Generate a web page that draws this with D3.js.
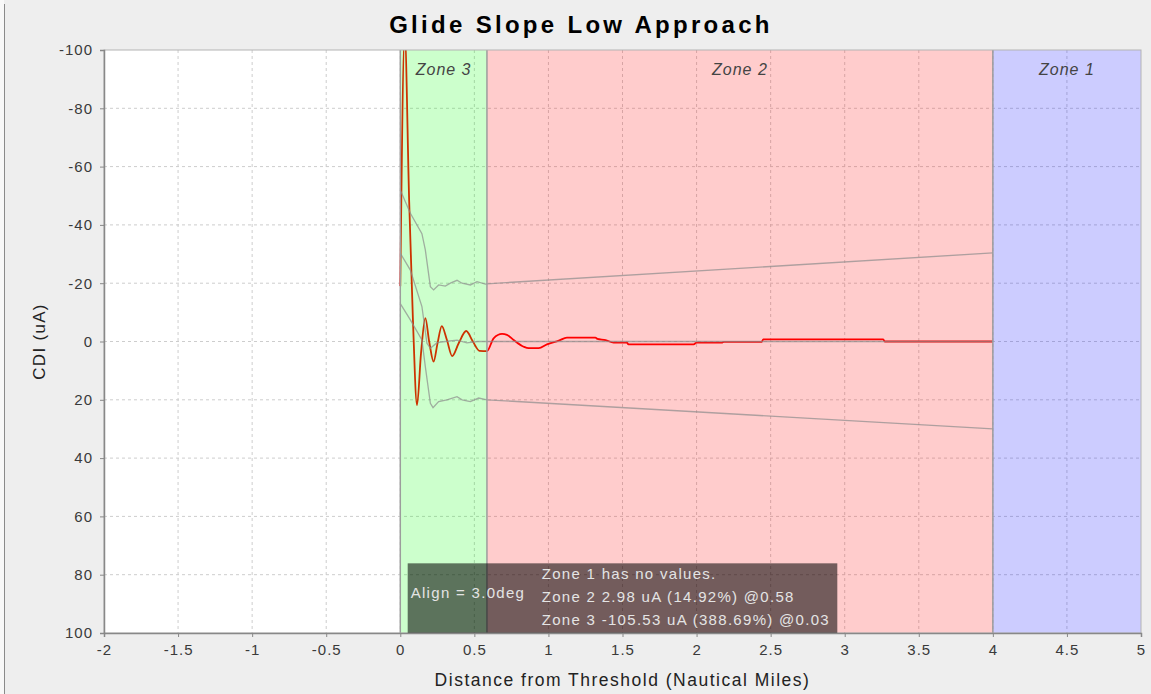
<!DOCTYPE html>
<head>
<meta charset="utf-8">
<script type="text/javascript" src="https://d3js.org/d3.v7.min.js"></script>
<style>
body {
	margin: 0;
	background: #eeeeee;
	font-family: "Liberation Sans", Arial, sans-serif;
}
.tick text {
	font-size: 15px;
	letter-spacing: 1px;
	fill: #3a3a3a;
}
</style>
</head>

<body>
<svg id="chart" width="1151" height="694"></svg>

<script>
// axis ticks
var xTicks = [-2, -1.5, -1, -0.5, 0, 0.5, 1, 1.5, 2, 2.5, 3, 3.5, 4, 4.5, 5];
var yTicks = [-100, -80, -60, -40, -20, 0, 20, 40, 60, 80, 100];

// zones (distance in NM)
var zoneNames  = ["Zone 3", "Zone 2", "Zone 1"];
var zoneStart  = [0, 0.585, 4];
var zoneEnd    = [0.585, 4, 5];
var zoneColors = ["#00ff00", "#ff0000", "#0000ff"];

// measured CDI trace
var cdiDist  = [0, 0.03, 0.06, 0.085, 0.113, 0.14, 0.169, 0.195, 0.225, 0.25, 0.28, 0.315, 0.35, 0.395, 0.445, 0.49, 0.535, 0.585,
                0.63, 0.687, 0.72, 0.765, 0.833, 0.867, 0.934, 0.99, 1.07, 1.125, 1.317, 1.33, 1.386, 1.44, 1.53, 1.54, 1.98, 2.0,
                2.17, 2.185, 2.44, 2.45, 3.26, 3.27, 4.0];
var cdiValue = [-19, -105.53, -48, -8, 21.8, 4, -8, 0, 6.9, 1, -5.3, -0.5, 5, 0.5, -3.6, 0, 3.2, 3.3,
                -1.1, -2.6, -2.3, -0.5, 1.8, 2.3, 2.3, 1.0, -0.3, -1.3, -1.3, -0.9, -0.5, 0.4, 0.4, 1.0, 1.0, 0.4,
                0.4, 0.1, 0.1, -0.75, -0.75, 0, 0];

// tolerance / reference lines
var upperDist   = [0, 0.068, 0.146, 0.169, 0.203, 0.225, 0.259, 0.304, 0.338, 0.383, 0.417, 0.473, 0.518, 0.574, 0.585, 4.0];
var upperValue  = [-52, -44, -37, -31.4, -18.8, -17.7, -19.4, -19, -20, -21, -20, -19.4, -20.5, -19.7, -19.8, -30.4];
var centerDist  = [0, 0.068, 0.146, 0.18, 0.203, 0.248, 0.304, 0.383, 0.45, 0.52, 0.585, 4.0];
var centerValue = [-30.3, -24.5, -12, 0.6, 2.3, 0.4, 0, -0.5, 0.5, 0, 0, 0];
var lowerDist   = [0, 0.068, 0.146, 0.169, 0.203, 0.221, 0.259, 0.315, 0.383, 0.417, 0.473, 0.529, 0.585, 4.0];
var lowerValue  = [-13, -7.4, -0.5, 8.6, 21.2, 22.7, 20.6, 20, 18.9, 20, 20.6, 19.4, 20, 30];

// annotation
var alignText = "Align = 3.0deg";
var infoLines = ["Zone 1 has no values.", "Zone 2 2.98 uA (14.92%) @0.58", "Zone 3 -105.53 uA (388.69%) @0.03"];
var infoBox = {x0: 0.05, x1: 2.95, y0: 76.1, y1: 100};

var svg = d3.select("#chart"),
	margin = {top: 50, left: 104, bottom: 61, right: 10},
	width = +svg.attr("width"),
	height = +svg.attr("height");

var x = d3.scaleLinear().domain([-2, 5]).range([margin.left, width - margin.right]);
var y = d3.scaleLinear().domain([-100, 100]).range([margin.top, height - margin.bottom]);

// window edge
svg.append("rect").attr("x", 0).attr("y", 0).attr("width", 4).attr("height", height).attr("fill", "#f8f8f8");
svg.append("line").attr("x1", 4.5).attr("x2", 4.5).attr("y1", 4).attr("y2", height).attr("stroke", "#8a8a8a");

svg.append("defs").append("clipPath").attr("id", "plotClip")
	.append("rect").attr("x", x(-2)).attr("y", y(-100)).attr("width", x(5) - x(-2)).attr("height", y(100) - y(-100));

// plot background
svg.append("rect")
	.attr("x", x(-2)).attr("y", y(-100))
	.attr("width", x(5) - x(-2)).attr("height", y(100) - y(-100))
	.attr("fill", "#fff");

// grid
var grid = svg.append("g");
grid.selectAll(".vgrid").data(xTicks.slice(1, -1)).enter().append("line")
	.attr("x1", d => x(d)).attr("x2", d => x(d))
	.attr("y1", y(-100)).attr("y2", y(100))
	.attr("stroke", "#cdcdcd").attr("stroke-dasharray", "3,3");
grid.selectAll(".hgrid").data(yTicks.slice(1, -1)).enter().append("line")
	.attr("x1", x(-2)).attr("x2", x(5))
	.attr("y1", d => y(d)).attr("y2", d => y(d))
	.attr("stroke", "#cdcdcd").attr("stroke-dasharray", "3,3");

var plot = svg.append("g").attr("clip-path", "url(#plotClip)");

var line = d3.line().x(d => x(d[0])).y(d => y(d[1]));
var smooth = d3.line().x(d => x(d[0])).y(d => y(d[1])).curve(d3.curveMonotoneX);

plot.append("path")
	.datum(d3.zip(cdiDist, cdiValue))
	.attr("d", smooth)
	.attr("fill", "none")
	.attr("stroke", "#ff0000")
	.attr("stroke-width", 1.8)
	.attr("stroke-linejoin", "round");

// zone overlays (drawn on top of the trace, translucent)
var zones = zoneNames.map((n, i) => ({name: n, x0: zoneStart[i], x1: zoneEnd[i], color: zoneColors[i]}));
plot.selectAll(".zone").data(zones).enter().append("rect")
	.attr("x", d => x(d.x0)).attr("y", y(-100))
	.attr("width", d => x(d.x1) - x(d.x0)).attr("height", y(100) - y(-100))
	.attr("fill", d => d.color).attr("fill-opacity", 0.2);

var refLines = [
	d3.zip(upperDist, upperValue),
	d3.zip(centerDist, centerValue),
	d3.zip(lowerDist, lowerValue)
];
plot.selectAll(".ref").data(refLines).enter().append("path")
	.attr("d", line)
	.attr("fill", "none")
	.attr("stroke", "#8c8c8c")
	.attr("stroke-opacity", 0.7)
	.attr("stroke-width", 1.3);

plot.selectAll(".zoneEdge").data(zoneStart).enter().append("line")
	.attr("x1", d => x(d)).attr("x2", d => x(d))
	.attr("y1", y(-100)).attr("y2", y(100))
	.attr("stroke", "#9c9c9c").attr("stroke-width", 1.5);
svg.selectAll(".zoneLabel").data(zones).enter().append("text")
	.attr("x", d => (x(d.x0) + x(d.x1)) / 2)
	.attr("y", y(-100) + 25)
	.attr("text-anchor", "middle")
	.attr("font-style", "italic")
	.attr("font-size", "16px")
	.attr("letter-spacing", "1px")
	.attr("fill", "#444")
	.text(d => d.name);

// plot border
svg.append("rect")
	.attr("x", x(-2)).attr("y", y(-100))
	.attr("width", x(5) - x(-2)).attr("height", y(100) - y(-100))
	.attr("fill", "none").attr("stroke", "#b4b4b4");

// annotation box
svg.append("rect")
	.attr("x", x(infoBox.x0)).attr("y", y(infoBox.y0))
	.attr("width", x(infoBox.x1) - x(infoBox.x0)).attr("height", y(infoBox.y1) - y(infoBox.y0))
	.attr("fill", "#000").attr("fill-opacity", 0.55);
svg.append("text")
	.attr("x", x(infoBox.x0) + 3).attr("y", y(infoBox.y0) + 35)
	.attr("font-size", "15px").attr("letter-spacing", "1.3px")
	.attr("fill", "#e4e4e4")
	.text(alignText);
svg.selectAll(".info").data(infoLines).enter().append("text")
	.attr("x", x(infoBox.x0) + 134)
	.attr("y", (d, i) => y(infoBox.y0) + 16 + i * 23)
	.attr("font-size", "15px").attr("letter-spacing", "1.3px")
	.attr("fill", "#e4e4e4")
	.text(d => d);

// axes
var xAxis = svg.append("g").attr("transform", `translate(0,${y(100)})`)
	.call(d3.axisBottom(x).tickValues(xTicks).tickFormat(d => String(d)).tickSize(4).tickPadding(4));
var yAxis = svg.append("g").attr("transform", `translate(${x(-2)},0)`)
	.call(d3.axisLeft(y).tickValues(yTicks).tickFormat(d => String(d)).tickSize(4).tickPadding(7));
svg.selectAll(".domain").attr("stroke", "#888").attr("stroke-width", 1.5);
svg.selectAll(".tick line").attr("stroke", "#888");
xAxis.selectAll("text").attr("dy", "0.95em");

svg.append("text")
	.attr("x", 581).attr("y", 33)
	.attr("text-anchor", "middle")
	.attr("font-size", "24px").attr("font-weight", "bold").attr("letter-spacing", "3.3px")
	.attr("fill", "#000")
	.text("Glide Slope Low Approach");

svg.append("text")
	.attr("x", (x(-2) + x(5)) / 2).attr("y", 686)
	.attr("text-anchor", "middle")
	.attr("font-size", "17.5px").attr("letter-spacing", "1.5px")
	.attr("fill", "#222")
	.text("Distance from Threshold (Nautical Miles)");

svg.append("text")
	.attr("transform", `translate(45,${y(0)}) rotate(-90)`)
	.attr("text-anchor", "middle")
	.attr("font-size", "17px").attr("letter-spacing", "1.3px")
	.attr("fill", "#222")
	.text("CDI (uA)");
</script>

</body>
</html>
